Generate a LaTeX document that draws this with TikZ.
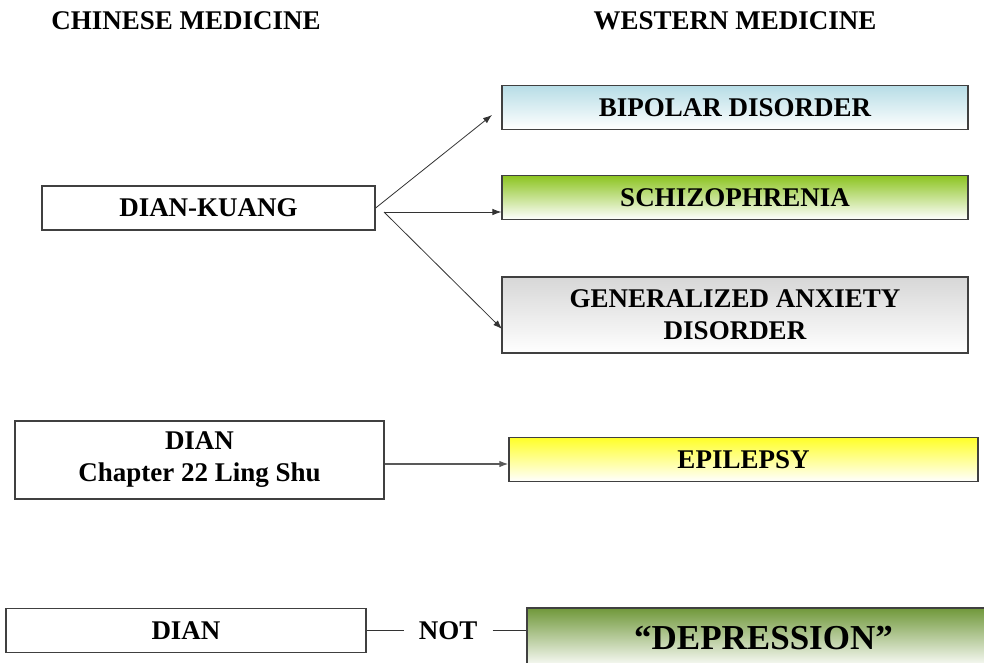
\documentclass[tikz,border=0pt]{standalone}
\usepackage{fontspec}
\setmainfont{Liberation Serif}
\usetikzlibrary{positioning,arrows.meta}

\definecolor{bipolartop}{RGB}{183,221,230}
\definecolor{schizotop}{RGB}{140,196,32}
\definecolor{anxietytop}{RGB}{215,215,215}
\definecolor{epilepsytop}{RGB}{255,255,40}
\definecolor{depressiontop}{RGB}{112,152,58}

\begin{document}
\begin{tikzpicture}[
		x=1pt,y=-1pt,
		every node/.style={font={\fontsize{27}{32}\selectfont\bfseries},text=black},
		box/.style={draw=black!75,line width=1.2pt,minimum width=#1,minimum height=44pt,inner sep=0pt,align=center},
		shade/.style={top color=#1,bottom color=white},
		conn/.style={draw=black!80,line width=0.8pt},
		arrow/.style={conn,->,>={Latex[length=9pt,width=6.5pt]}},
]

\def\westX{735}
\def\westW{466pt}

\clip (0,0) rectangle (984,662);

% headings
\node (chinese) at (186,21) {CHINESE MEDICINE};
\node (western) at (\westX,21) {WESTERN MEDICINE};

% dian-kuang
\node [box=333pt] (diankuang) at (208.5,208) {DIAN-KUANG};
\node [box=\westW,shade=bipolartop] (bipolar) at (\westX,107.5) {BIPOLAR DISORDER};
\node [box=\westW,shade=schizotop] (schizo) at (\westX,197.5) {SCHIZOPHRENIA};
\node [box=\westW,minimum height=76pt,shade=anxietytop] (anxiety) at (\westX,315) {GENERALIZED ANXIETY\\DISORDER};

\coordinate (fork) at (384,212);
\coordinate (bipolartip) at (492,115);
\coordinate (anxietytip) at (502,329);

\draw [arrow] (diankuang.east) -- (bipolartip);
\draw [arrow] (fork) -- (fork -| schizo.west);
\draw [arrow] (fork) -- (anxietytip);

% dian, ling shu
\node [box=369pt,minimum height=78pt] (dianls) at (199.5,460) {DIAN\\Chapter 22 Ling Shu};
\node [box=469pt,shade=epilepsytop] (epilepsy) at (743.5,459.5) {EPILEPSY};
\draw [arrow,draw=black!65,line width=1.4pt] ([yshift=-4pt]dianls.east) -- ([yshift=-4pt]dianls.east -| epilepsy.west);

% dian, not depression
\node [box=360pt] (dian) at (186,630.5) {DIAN};
\node [right=37pt of dian,inner xsep=15pt] (not) {NOT};
\node [box=473pt,minimum height=60pt,shade=depressiontop,font={\fontsize{35}{40}\selectfont\bfseries}] (depression) at (763.5,638) {“DEPRESSION”};
\draw [conn] (dian.east) -- (not.west);
\draw [conn] (not.east) -- (not.east -| depression.west);

\end{tikzpicture}
\end{document}
